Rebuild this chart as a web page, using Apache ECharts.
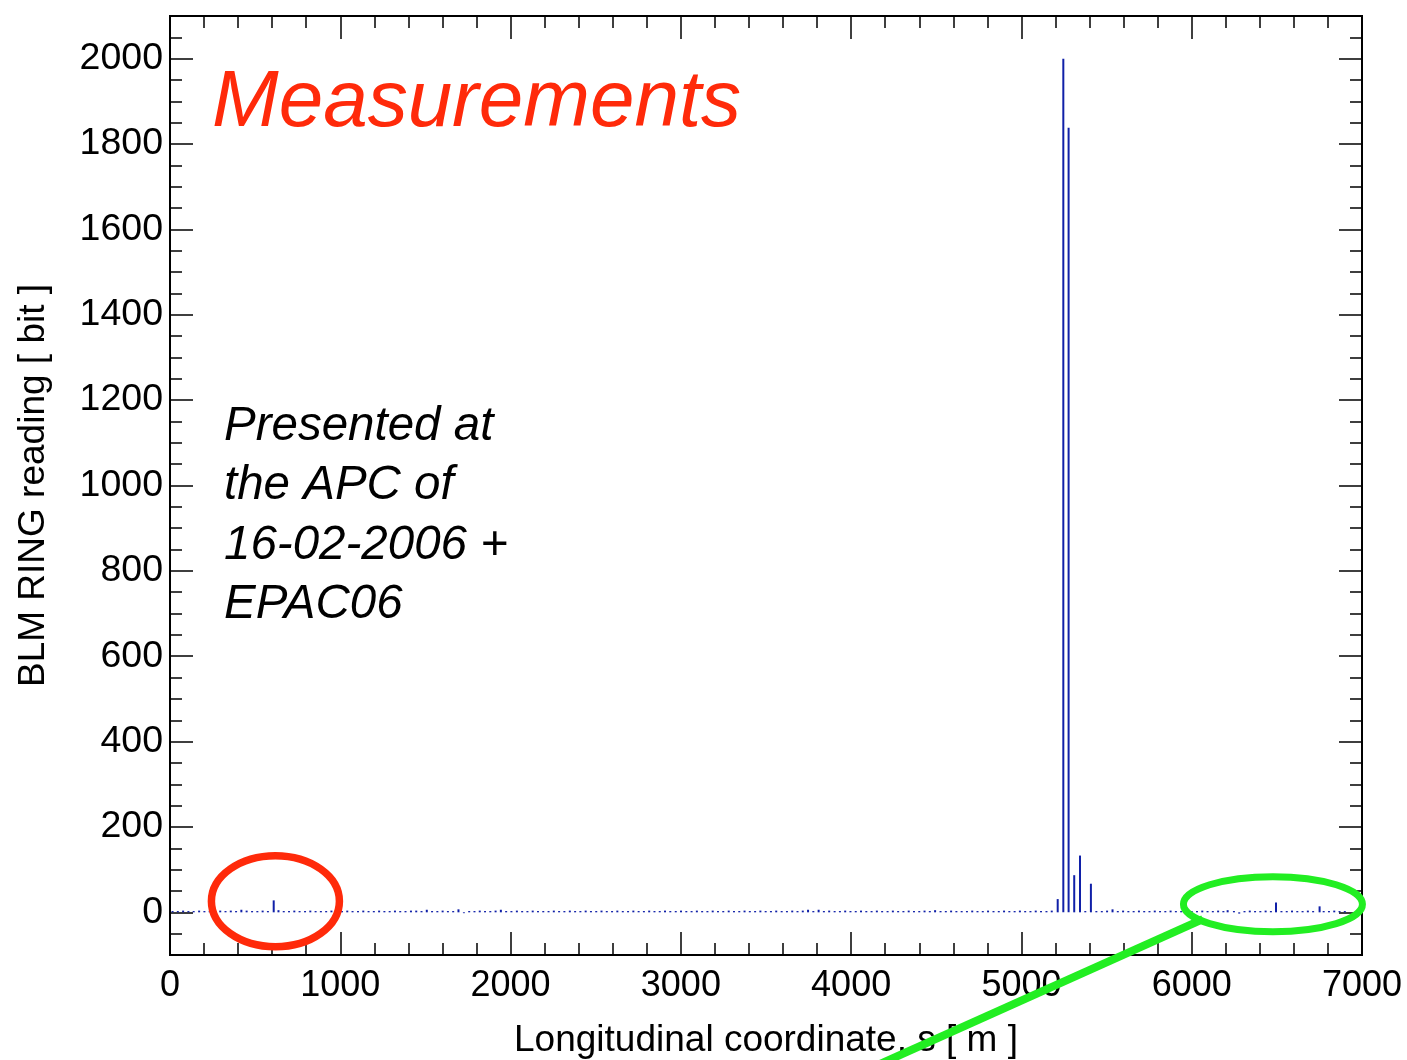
<!DOCTYPE html>
<html>
<head>
<meta charset="utf-8">
<script src="https://cdn.jsdelivr.net/npm/echarts@6/dist/echarts.min.js"></script>
<style>
  html, body { margin: 0; padding: 0; background: #fff; }
  #chart { width: 1407px; height: 1060px; }
</style>
</head>
<body>
<div id="chart"></div>
<script>
// BLM ring monitor positions along the ring, s [m]
const monitorPositions = [
  15, 46, 77, 108, 139, 171, 202, 233, 264, 295,
  326, 357, 388, 419, 450, 482, 513, 544, 575, 609,
  637, 668, 699, 730, 761, 793, 824, 855, 886, 917,
  948, 979, 1010, 1041, 1072, 1104, 1135, 1166, 1197, 1228,
  1259, 1290, 1321, 1352, 1383, 1415, 1446, 1477, 1508, 1539,
  1570, 1601, 1632, 1663, 1694, 1726, 1757, 1788, 1819, 1850,
  1881, 1912, 1943, 1974, 2005, 2037, 2068, 2099, 2130, 2161,
  2192, 2223, 2254, 2285, 2316, 2348, 2379, 2410, 2441, 2472,
  2503, 2534, 2565, 2596, 2627, 2659, 2690, 2721, 2752, 2783,
  2814, 2845, 2876, 2907, 2938, 2970, 3001, 3032, 3063, 3094,
  3125, 3156, 3187, 3218, 3249, 3281, 3312, 3343, 3374, 3405,
  3436, 3467, 3498, 3529, 3560, 3592, 3623, 3654, 3685, 3716,
  3747, 3778, 3809, 3840, 3871, 3903, 3934, 3965, 3996, 4027,
  4058, 4089, 4120, 4151, 4182, 4214, 4245, 4276, 4307, 4338,
  4369, 4400, 4431, 4462, 4493, 4525, 4556, 4587, 4618, 4649,
  4680, 4711, 4742, 4773, 4804, 4836, 4867, 4898, 4929, 4960,
  4991, 5022, 5053, 5084, 5115, 5147, 5178,
  5213, 5246, 5277, 5310, 5344, 5375, 5408, 5440, 5472, 5503, 5535, 5566,
  5597, 5628, 5659, 5690, 5721, 5752, 5783, 5814, 5845, 5876, 5907,
  5938, 5969, 6000, 6031, 6062, 6093, 6124, 6155, 6186, 6211,
  6248, 6279, 6310, 6341, 6372, 6403, 6434, 6465, 6495, 6527,
  6558, 6589, 6620, 6651, 6682, 6713, 6751, 6775, 6806, 6837, 6868, 6899
];

// BLM RING reading [bit] for each monitor
const blmReadings = [
  3, 3, 4, 3, 3, 4, 3, 3, 3, 4,
  3, 4, 3, 6, 4, 3, 3, 4, 3, 28,
  5, 3, 3, 4, 3, 3, 4, 3, 3, 3,
  4, 3, 3, 4, 3, 3, 4, 3, 3, 4,
  3, 3, 4, 3, 3, 4, 4, 3, 6, 3,
  3, 4, 3, 3, 7, -2, 3, 3, 4, 3,
  3, 4, 6, 3, 3, 4, 3, 3, 4, 3,
  3, 3, 4, 3, 3, 4, 3, 3, 4, 3,
  3, 4, 3, 3, 4, 3, 3, 4, 3, 3,
  4, 3, 3, 4, 3, 3, 4, 3, 3, 4,
  3, 3, 4, 3, 3, 4, 3, 3, 4, 3,
  3, 4, 3, 3, 4, 3, 3, 4, 3, 4,
  6, 3, 6, 3, 4, 3, 3, 4, 3, 3,
  4, 3, 3, 4, 3, 3, 4, 3, 3, 4,
  3, 3, 4, 3, 5, 3, 3, 4, 3, 3,
  3, 4, 3, 3, 4, 3, 3, 4, 3, 3,
  4, 3, 3, 4, 3, 3, 4,
  31, 2000, 1838, 87, 133, 3, 67, 3, 3, 4, 7, 3,
  4, 3, 3, 4, 3, 3, 4, 3, 3, 4, 3,
  3, 4, 3, 3, 4, 3, 3, 4, 3, 5,
  3, -3, 3, 4, 3, 3, 4, 3, 23, 3,
  3, 4, 3, 3, 4, 3, 14, 3, 3, 4, 3, 3
];

// Axis ranges and labelled ticks
const xRange = [0, 7000];
const yRange = [-100, 2100];
const yMajorTicks = [0, 200, 400, 600, 800, 1000, 1200, 1400, 1600, 1800, 2000];

const seriesData = monitorPositions.map((s, i) => [s, blmReadings[i]]);

const FONT = '"Liberation Sans", Arial, Helvetica, sans-serif';
const chart = echarts.init(document.getElementById('chart'), null, { renderer: 'canvas' });

function xAxisDef(position, withLabels) {
  return {
    type: 'value', position: position, min: xRange[0], max: xRange[1], interval: 1000,
    axisLine: { show: false, onZero: false },
    splitLine: { show: false },
    axisTick: { show: true, inside: true, length: 23, lineStyle: { color: '#000', width: 1.5 } },
    minorTick: { show: true, splitNumber: 5, length: 12, lineStyle: { color: '#000', width: 1.5 } },
    axisLabel: withLabels
      ? { show: true, color: '#000', fontFamily: FONT, fontSize: 36, margin: 13,
          formatter: v => String(v) }
      : { show: false },
    name: withLabels ? 'Longitudinal coordinate, s [ m ]' : '',
    nameLocation: 'middle', nameGap: 67,
    nameTextStyle: { color: '#000', fontFamily: FONT, fontSize: 37 }
  };
}

function yMinorDef(position, withLabels) {
  return {
    type: 'value', position: position, min: yRange[0], max: yRange[1], interval: 50,
    axisLine: { show: false, onZero: false },
    splitLine: { show: false },
    axisTick: { show: true, inside: true, length: 12, lineStyle: { color: '#000', width: 1.5 } },
    axisLabel: withLabels ? {
      show: true, color: '#000', fontFamily: FONT, fontSize: 37.5, margin: 7,
      formatter: v => (yMajorTicks.indexOf(v) >= 0 ? String(v) : '')
    } : { show: false },
    name: withLabels ? 'BLM RING reading [ bit ]' : '',
    nameLocation: 'middle', nameGap: 118, nameRotate: 90,
    nameTextStyle: { color: '#000', fontFamily: FONT, fontSize: 37 }
  };
}

function yMajorDef(position) {
  return {
    type: 'value', position: position, min: yRange[0], max: yRange[1],
    axisLine: { show: false, onZero: false },
    splitLine: { show: false },
    axisTick: { show: true, inside: true, length: 23, customValues: yMajorTicks,
                lineStyle: { color: '#000', width: 1.5 } },
    axisLabel: { show: false }
  };
}

const option = {
  animation: false,
  backgroundColor: '#fff',
  grid: {
    left: 170, right: 45, top: 16, bottom: 105,
    containLabel: false, outerBoundsMode: 'none',
    show: true, borderColor: '#000', borderWidth: 2, backgroundColor: 'transparent'
  },
  xAxis: [xAxisDef('bottom', true), xAxisDef('top', false)],
  yAxis: [yMinorDef('left', true), yMajorDef('left'), yMinorDef('right', false), yMajorDef('right')],
  series: [{
    type: 'bar',
    xAxisIndex: 0, yAxisIndex: 0,
    data: seriesData,
    barWidth: 2,
    itemStyle: { color: '#1020a8' },
    silent: true
  }]
};
chart.setOption(option);

// Annotations: ellipses around the loss regions, titles and notes
const redCenter = chart.convertToPixel({ xAxisIndex: 0, yAxisIndex: 0 }, [619, 26]);
const greenCenter = chart.convertToPixel({ xAxisIndex: 0, yAxisIndex: 0 }, [6477, 19]);

chart.setOption({
  graphic: [
    {
      type: 'text', z: 10,
      style: {
        text: 'Measurements', x: 212, y: 104, verticalAlign: 'middle',
        font: 'italic 80px ' + FONT, fill: '#ff2a0a'
      }
    },
    {
      type: 'text', z: 10,
      style: {
        text: 'Presented at\nthe APC of\n16-02-2006 +\nEPAC06',
        x: 224, y: 397, verticalAlign: 'top', lineHeight: 59.5,
        font: 'italic 47.5px ' + FONT, fill: '#000'
      }
    },
    {
      type: 'ellipse', z: 10,
      shape: { cx: redCenter[0], cy: redCenter[1], rx: 64, ry: 45.5 },
      style: { fill: 'none', stroke: '#ff2a0a', lineWidth: 7.5 }
    },
    {
      type: 'ellipse', z: 10,
      shape: { cx: greenCenter[0], cy: greenCenter[1], rx: 89.5, ry: 27.5 },
      style: { fill: 'none', stroke: '#22ee22', lineWidth: 7 }
    },
    {
      type: 'line', z: 10,
      shape: { x1: greenCenter[0] - 70, y1: greenCenter[1] + 15, x2: 880, y2: 1064 },
      style: { stroke: '#22ee22', lineWidth: 8 }
    }
  ]
});
</script>
</body>
</html>
